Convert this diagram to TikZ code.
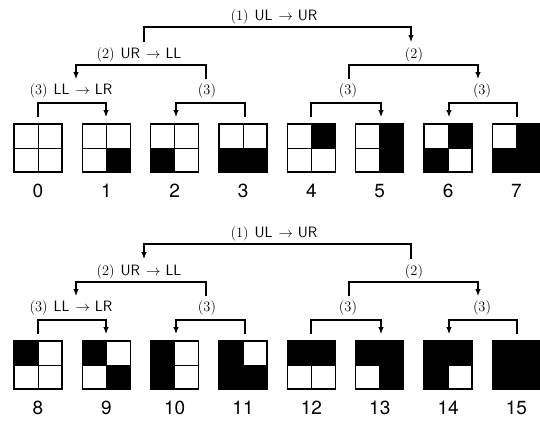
\documentclass[tikz,border=0pt]{standalone}
\usepackage{fontspec}
\newfontfamily\numfont{TeX Gyre Heros}
\usetikzlibrary{arrows.meta}
\newcommand\steplab[3]{$(#1)$\hspace{6pt}\textsf{#2}\hspace{6pt}$\rightarrow$\hspace{5pt}\textsf{#3}}
\newcommand\halftree[4]{%
  % #1 y offset, #2 suffix, #3 first square index, #4 level-1 arrow side (r/l)
  \begin{scope}[shift={(0,#1)}]
    % squares
    \foreach \i in {0,...,7} {
      \pgfmathsetmacro\cx{38+68.35*\i}
      \pgfmathtruncatemacro\n{\i+#3}
      \node[sqbox] (s\n) at (\cx,148) {};
      \pgfmathtruncatemacro\qul{mod(floor(\n/8),2)}
      \pgfmathtruncatemacro\qur{mod(floor(\n/4),2)}
      \pgfmathtruncatemacro\qll{mod(floor(\n/2),2)}
      \pgfmathtruncatemacro\qlr{mod(\n,2)}
      \ifnum\qul=1 \fill (s\n.north west) rectangle (s\n.center);\fi
      \ifnum\qur=1 \fill (s\n.north) rectangle (s\n.east);\fi
      \ifnum\qll=1 \fill (s\n.west) rectangle (s\n.south);\fi
      \ifnum\qlr=1 \fill (s\n.center) rectangle (s\n.south east);\fi
      \draw[gridln] (s\n.north) -- (s\n.south) (s\n.west) -- (s\n.east);
      \draw[border] (s\n.north west) rectangle (s\n.south east);
      \node[numlbl] (num\n) at (\cx,191) {\n};
    }
    % labels
    \node[lbl] (la#2) at (274,17) {\steplab{1}{UL}{UR}};
    \node[lbl] (lb#2) at (139,55) {\steplab{2}{UR}{LL}};
    \node[lbl] (lc#2) at (414,55) {$(2)$};
    \node[lbl] (ld#2) at (71,91) {\steplab{3}{LL}{LR}};
    \node[lbl] (le#2) at (207,91) {$(3)$};
    \node[lbl] (lf#2) at (348,91) {$(3)$};
    \node[lbl] (lg#2) at (482,91) {$(3)$};
    % connector end points
    \coordinate (a1#2) at (144,42);  \coordinate (a2#2) at (411,42);
    \coordinate (b1#2) at (76,79);   \coordinate (b2#2) at (206,79);
    \coordinate (c1#2) at (349,79);  \coordinate (c2#2) at (478,79);
    \coordinate (d1#2) at (38,117);  \coordinate (d2#2) at (106,117);
    \coordinate (e1#2) at (176,117); \coordinate (e2#2) at (245,117);
    \coordinate (f1#2) at (311,117); \coordinate (f2#2) at (381,117);
    \coordinate (g1#2) at (449,117); \coordinate (g2#2) at (517,117);
    % level 1
    \if#4r
      \draw[arr] (a1#2) -- ++(0,-15) -| (a2#2);
    \else
      \draw[arr] (a2#2) -- ++(0,-15) -| (a1#2);
    \fi
    % level 2
    \draw[arr] (b2#2) -- ++(0,-14) -| (b1#2);
    \draw[arr] (c1#2) -- ++(0,-14) -| (c2#2);
    % level 3
    \draw[arr] (d1#2) -- ++(0,-14) -| (d2#2);
    \draw[arr] (e2#2) -- ++(0,-14) -| (e1#2);
    \draw[arr] (f1#2) -- ++(0,-14) -| (f2#2);
    \draw[arr] (g2#2) -- ++(0,-14) -| (g1#2);
  \end{scope}}
\begin{document}
\begin{tikzpicture}[x=1pt,y=-1pt,
  conn/.style={line width=1.1pt},
  arr/.style={conn,-{Latex[length=7pt,width=5.5pt]}},
  lbl/.style={font=\fontsize{15}{17}\selectfont, inner sep=0pt},
  numlbl/.style={font=\numfont\fontsize{19}{22}\selectfont, inner sep=0pt},
  sqbox/.style={minimum size=48pt, inner sep=0pt, outer sep=0pt},
  gridln/.style={line width=0.9pt},
  border/.style={line width=1.4pt}]
\useasboundingbox (0,0) rectangle (540,421);
\halftree{0}{t}{0}{r}
\halftree{217}{b}{8}{l}
\end{tikzpicture}
\end{document}
